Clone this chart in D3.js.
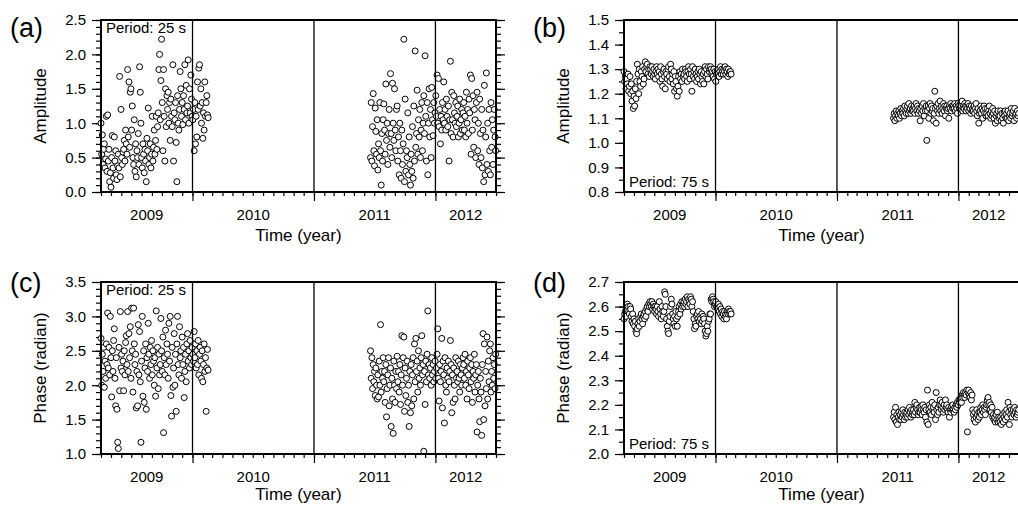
<!DOCTYPE html>
<html lang="en">
<head>
<meta charset="UTF-8">
<title>Amplitude and phase time series</title>
<script src="https://d3js.org/d3.v7.min.js"></script>
<style>
  body { margin: 0; background: #fff; }
  svg { display: block; font-family: "Liberation Sans", Arial, Helvetica, sans-serif; }
  .tick text { font-size: 15px; fill: #000; }
  .tick line { stroke: #000; stroke-width: 1.2; }
</style>
</head>
<body>
<script>
// sample days, counted from 2009-01-01
const days1 = [
  90, 92, 94, 96, 98, 100, 102, 104, 106, 108,
  110, 112, 114, 116, 118, 120, 122, 124, 126, 128,
  130, 132, 134, 136, 138, 140, 142, 144, 146, 148,
  150, 152, 154, 156, 158, 160, 162, 164, 166, 168,
  170, 172, 174, 176, 178, 180, 182, 184, 186, 188,
  190, 192, 194, 196, 198, 200, 202, 204, 206, 208,
  210, 212, 214, 216, 218, 220, 222, 224, 226, 228,
  230, 232, 234, 236, 238, 240, 242, 244, 246, 248,
  250, 252, 254, 256, 258, 260, 262, 264, 266, 268,
  270, 272, 274, 276, 278, 280, 282, 284, 286, 288,
  290, 292, 294, 296, 298, 300, 302, 304, 306, 308,
  310, 312, 314, 316, 318, 320, 322, 324, 326, 328,
  330, 332, 334, 336, 338, 340, 342, 344, 346, 348,
  350, 352, 354, 356, 358, 360, 362, 364, 366, 368,
  370, 372, 374, 376, 378, 380, 382, 384, 386, 388,
  390, 392, 394, 396, 398, 400, 402, 404, 406, 408,
  410, 412
];
const days2 = [
  900, 902, 904, 906, 908, 910, 912, 914, 916, 918,
  920, 922, 924, 926, 928, 930, 932, 934, 936, 938,
  940, 942, 944, 946, 948, 950, 952, 954, 956, 958,
  960, 962, 964, 966, 968, 970, 972, 974, 976, 978,
  980, 982, 984, 986, 988, 990, 992, 994, 996, 998,
  1000, 1002, 1004, 1006, 1008, 1010, 1012, 1014, 1016, 1018,
  1020, 1022, 1024, 1026, 1028, 1030, 1032, 1034, 1036, 1038,
  1040, 1042, 1044, 1046, 1048, 1050, 1052, 1054, 1056, 1058,
  1060, 1062, 1064, 1066, 1068, 1070, 1072, 1074, 1076, 1078,
  1080, 1082, 1084, 1086, 1088, 1090, 1092, 1094, 1096, 1098,
  1100, 1102, 1104, 1106, 1108, 1110, 1112, 1114, 1116, 1118,
  1120, 1122, 1124, 1126, 1128, 1130, 1132, 1134, 1136, 1138,
  1140, 1142, 1144, 1146, 1148, 1150, 1152, 1154, 1156, 1158,
  1160, 1162, 1164, 1166, 1168, 1170, 1172, 1174, 1176, 1178,
  1180, 1182, 1184, 1186, 1188, 1190, 1192, 1194, 1196, 1198,
  1200, 1202, 1204, 1206, 1208, 1210, 1212, 1214, 1216, 1218,
  1220, 1222, 1224, 1226, 1228, 1230, 1232, 1234, 1236, 1238,
  1240, 1242, 1244, 1246, 1248, 1250, 1252, 1254, 1256, 1258,
  1260, 1262, 1264, 1266, 1268, 1270, 1272, 1274, 1276, 1278,
  1280
];

// (a) amplitude, 25 s
const amp25_1 = [
  1.0, 0.55, 0.83, 0.4, 0.62, 0.7, 0.35, 0.48, 1.1, 0.3,
  1.12, 0.45, 0.62, 0.15, 0.28, 0.07, 0.5, 0.82, 0.35, 0.2,
  0.8, 0.45, 0.6, 0.25, 0.18, 0.38, 0.55, 0.35, 1.68, 0.22,
  1.2, 0.5, 0.4, 0.58, 0.62, 0.75, 0.45, 0.9, 0.7, 0.55,
  1.78, 0.8, 1.6, 0.65, 1.45, 1.5, 0.9, 1.25, 0.5, 0.4,
  1.05, 0.3, 0.7, 0.22, 0.6, 0.5, 0.85, 0.4, 1.82, 1.45,
  1.0, 0.5, 0.35, 0.7, 0.55, 0.28, 0.62, 0.45, 0.15, 0.78,
  0.6, 1.22, 0.4, 0.5, 0.7, 0.35, 0.55, 1.1, 0.45, 0.65,
  0.9, 0.55, 0.75, 1.1, 0.62, 0.95, 1.15, 1.78, 2.0, 1.05,
  1.62, 2.22, 1.3, 0.6, 1.78, 1.1, 0.45, 1.5, 0.95, 1.4,
  1.2, 1.45, 1.0, 1.3, 0.75, 1.35, 1.1, 0.95, 1.85, 0.45,
  1.15, 1.05, 1.3, 0.72, 0.15, 1.4, 1.0, 0.9, 1.2, 1.75,
  1.5, 1.1, 1.3, 0.98, 1.4, 1.2, 1.85, 1.05, 1.55, 1.15,
  1.25, 1.92, 1.0, 1.5, 1.15, 1.7, 1.35, 1.1, 1.05, 1.2,
  0.6, 1.3, 0.7, 1.1, 0.8, 1.6, 1.2, 1.8, 1.85, 1.25,
  1.5, 1.0, 1.3, 0.78, 1.15, 0.9, 1.6, 1.1, 1.3, 1.4,
  1.12, 1.08
];
const amp25_2 = [
  0.5, 1.3, 0.45, 0.95, 1.43, 0.6, 0.38, 1.22, 0.88, 0.55,
  1.05, 0.32, 0.7, 0.5, 1.3, 0.6, 0.1, 0.85, 0.45, 1.05,
  1.28, 0.9, 0.55, 1.57, 0.75, 1.0, 0.4, 0.85, 1.2, 0.65,
  1.72, 0.85, 0.5, 1.58, 1.0, 0.75, 1.5, 0.9, 0.6, 1.2,
  1.25, 0.45, 0.8, 0.25, 1.0, 0.6, 0.2, 0.9, 0.4, 0.7,
  2.22, 0.15, 1.35, 0.3, 0.6, 0.5, 1.15, 0.25, 0.8, 0.4,
  0.1, 0.55, 0.3, 0.95, 0.2, 1.25, 0.45, 2.05, 0.65, 0.85,
  1.48, 0.55, 1.05, 0.8, 1.2, 0.5, 0.9, 1.3, 0.6, 1.0,
  1.4, 0.85, 1.98, 1.1, 0.45, 1.3, 0.25, 1.0, 1.5, 0.8,
  1.2, 0.5, 1.52, 1.05, 0.82, 1.3, 1.0, 1.15, 1.4, 1.1,
  1.7, 1.0, 1.65, 0.95, 1.2, 0.7, 1.1, 0.9, 1.3, 1.05,
  1.6, 1.0, 1.2, 0.9, 1.35, 1.1, 0.95, 1.25, 0.45, 1.05,
  1.9, 0.85, 1.45, 1.05, 0.8, 1.4, 1.15, 1.0, 1.3, 0.95,
  1.1, 1.25, 0.8, 1.0, 1.35, 0.85, 1.05, 1.2, 0.9, 1.15,
  1.3, 0.9, 1.1, 0.8, 1.45, 1.0, 1.2, 0.85, 1.35, 1.15,
  1.7, 0.55, 1.65, 0.9, 1.4, 0.65, 1.2, 1.05, 0.5, 1.3,
  1.45, 0.6, 1.0, 0.4, 1.35, 0.85, 0.5, 1.2, 0.35, 0.9,
  0.15, 1.55, 0.25, 0.8, 1.73, 0.4, 1.0, 0.3, 1.2, 0.6,
  0.25, 1.3, 0.65, 1.05, 0.4, 0.9, 1.2, 0.8, 0.6, 1.0,
  0.85
];

// (b) amplitude, 75 s
const amp75_1 = [
  1.29, 1.25, 1.27, 1.22, 1.26, 1.24, 1.28, 1.21, 1.23, 1.27,
  1.2, 1.24, 1.17, 1.21, 1.14, 1.19, 1.15, 1.22, 1.18, 1.25,
  1.32, 1.28, 1.2, 1.3, 1.25, 1.23, 1.29, 1.27, 1.31, 1.24,
  1.26, 1.3, 1.33, 1.29, 1.31, 1.32, 1.28, 1.3, 1.27, 1.31,
  1.3, 1.28, 1.31, 1.29, 1.27, 1.3, 1.28, 1.26, 1.29, 1.31,
  1.28, 1.3, 1.27, 1.29, 1.25, 1.31, 1.28, 1.26, 1.23, 1.29,
  1.3, 1.27, 1.22, 1.29, 1.28, 1.26, 1.3, 1.31, 1.27, 1.25,
  1.32, 1.3, 1.26, 1.28, 1.24, 1.29, 1.21, 1.27, 1.25, 1.22,
  1.19, 1.23, 1.27, 1.21, 1.29, 1.26, 1.28, 1.25, 1.3, 1.27,
  1.28, 1.26, 1.3, 1.29, 1.27, 1.25, 1.29, 1.31, 1.28, 1.26,
  1.3, 1.28, 1.21, 1.31, 1.27, 1.29, 1.26, 1.3, 1.28, 1.25,
  1.27, 1.29, 1.26, 1.3, 1.28, 1.24, 1.29, 1.27, 1.25, 1.28,
  1.24, 1.29, 1.31, 1.27, 1.3, 1.28, 1.26, 1.31, 1.29, 1.3,
  1.31, 1.3, 1.28, 1.29, 1.27, 1.3, 1.26, 1.29, 1.25, 1.28,
  1.29, 1.28, 1.3, 1.27, 1.29, 1.31, 1.28, 1.3, 1.29, 1.28,
  1.3, 1.29, 1.31, 1.28, 1.3, 1.29, 1.27, 1.3, 1.28, 1.29,
  1.29, 1.28
];
const amp75_2 = [
  1.1, 1.12, 1.09, 1.11, 1.13, 1.1, 1.12, 1.11, 1.13, 1.1,
  1.12, 1.14, 1.11, 1.13, 1.12, 1.14, 1.11, 1.15, 1.13, 1.12,
  1.14, 1.15, 1.12, 1.16, 1.13, 1.14, 1.12, 1.15, 1.13, 1.14,
  1.13, 1.15, 1.12, 1.14, 1.16, 1.13, 1.15, 1.12, 1.14, 1.13,
  1.09, 1.14, 1.12, 1.15, 1.13, 1.16, 1.11, 1.14, 1.13, 1.15,
  1.01, 1.13, 1.15, 1.1, 1.14, 1.16, 1.12, 1.15, 1.13, 1.14,
  1.09, 1.12, 1.21, 1.14, 1.08, 1.15, 1.13, 1.16, 1.12, 1.14,
  1.17, 1.13, 1.15, 1.12, 1.14, 1.16, 1.13, 1.15, 1.11, 1.14,
  1.15, 1.13, 1.14, 1.1, 1.15, 1.14, 1.16, 1.13, 1.15, 1.14,
  1.15, 1.14, 1.16, 1.13, 1.15, 1.14, 1.12, 1.16, 1.15, 1.14,
  1.14, 1.16, 1.15, 1.17, 1.13, 1.15, 1.14, 1.16, 1.15, 1.13,
  1.15, 1.14, 1.16, 1.13, 1.15, 1.14, 1.12, 1.15, 1.13, 1.14,
  1.13, 1.15, 1.12, 1.14, 1.16, 1.13, 1.11, 1.14, 1.08, 1.12,
  1.13, 1.15, 1.12, 1.14, 1.1, 1.13, 1.15, 1.12, 1.14, 1.11,
  1.12, 1.14, 1.11, 1.13, 1.15, 1.12, 1.1, 1.13, 1.11, 1.14,
  1.12, 1.1, 1.13, 1.08, 1.11, 1.12, 1.09, 1.13, 1.11, 1.1,
  1.11, 1.13, 1.09, 1.12, 1.1, 1.08, 1.12, 1.11, 1.13, 1.1,
  1.12, 1.1, 1.13, 1.09, 1.11, 1.12, 1.1, 1.14, 1.11, 1.12,
  1.13, 1.09, 1.14, 1.11, 1.12, 1.1, 1.13, 1.11, 1.12, 1.1,
  1.12
];

// (c) phase, 25 s
const pha25_1 = [
  2.68, 2.0, 2.45, 2.2, 2.55, 1.97, 2.35, 2.1, 2.6, 2.3,
  3.05, 2.25, 2.55, 2.15, 3.0, 2.4, 1.83, 2.5, 2.2, 2.65,
  2.82, 2.1, 1.7, 2.4, 1.65, 1.17, 1.08, 2.55, 1.92, 3.07,
  2.25, 2.45, 2.2, 2.35, 1.92, 2.5, 2.15, 2.62, 2.72, 2.3,
  3.07, 2.2, 2.75, 2.4, 2.85, 2.1, 3.12, 2.5, 1.9, 3.12,
  2.6, 2.3, 2.45, 1.67, 2.2, 1.7, 2.88, 2.15, 2.78, 2.05,
  1.17, 2.35, 3.0, 1.84, 2.5, 1.75, 2.25, 2.6, 1.65, 2.4,
  2.2, 2.9, 2.45, 2.1, 2.55, 2.3, 2.65, 2.15, 2.5, 2.35,
  2.0, 2.4, 1.84, 3.08, 2.25, 2.55, 1.95, 2.45, 2.15, 2.3,
  2.97, 2.5, 2.2, 2.7, 1.31, 2.4, 2.15, 2.8, 2.3, 2.6,
  2.45, 2.1, 2.9, 2.35, 3.0, 1.85, 1.55, 2.55, 1.97, 2.25,
  2.75, 2.0, 2.45, 1.62, 2.6, 3.0, 2.3, 2.15, 2.85, 2.4,
  2.5, 2.1, 2.7, 2.3, 2.55, 1.82, 2.2, 2.45, 2.05, 2.6,
  2.75, 2.35, 2.5, 2.25, 2.65, 2.4, 2.3, 2.55, 2.45, 2.35,
  2.78, 2.4, 2.6, 2.25, 2.5, 2.3, 2.65, 2.15, 2.45, 2.55,
  2.35, 2.1, 2.5, 2.05, 2.3, 2.6, 2.2, 2.4, 1.62, 2.25,
  2.52, 2.22
];
const pha25_2 = [
  2.5, 2.1, 2.4, 1.95, 2.3, 2.05, 2.2, 1.85, 2.25, 2.0,
  1.8, 2.15, 1.83, 2.35, 2.0, 2.88, 1.9, 2.2, 2.1, 2.4,
  2.05, 2.2, 1.75, 2.3, 1.54, 1.95, 2.15, 2.4, 1.7, 2.0,
  2.25, 1.4, 2.1, 1.8, 1.3, 2.35, 2.0, 1.75, 2.2, 1.95,
  2.42, 2.05, 2.2, 1.9, 2.3, 1.72, 2.15, 2.72, 2.0, 2.4,
  2.7, 1.62, 2.25, 1.85, 2.1, 2.35, 1.75, 2.0, 1.4, 2.2,
  1.6, 2.3, 1.7, 2.15, 2.4, 1.8, 2.6, 2.05, 2.68, 2.2,
  2.35, 1.9, 2.5, 2.1, 2.25, 2.0, 2.4, 2.72, 2.15, 2.3,
  1.04, 2.2, 1.72, 2.35, 2.05, 2.45, 3.08, 2.15, 2.3, 2.1,
  2.25, 2.0, 2.4, 2.15, 2.3, 2.05, 2.2, 2.35, 2.1, 2.25,
  2.45, 2.82, 2.1, 1.77, 2.3, 2.05, 2.2, 2.68, 1.67, 2.35,
  2.15, 1.45, 2.4, 2.0, 1.9, 2.25, 2.1, 2.35, 2.05, 2.2,
  2.65, 2.3, 1.6, 2.15, 1.75, 2.25, 2.0, 1.8, 2.4, 2.1,
  2.2, 2.05, 2.35, 2.1, 1.9, 2.3, 2.15, 2.0, 2.25, 2.4,
  2.3, 2.1, 2.45, 2.0, 2.2, 1.8, 2.35, 2.15, 1.95, 2.25,
  2.4, 2.05, 2.3, 1.75, 2.2, 2.1, 2.45, 1.9, 2.15, 2.3,
  1.32, 2.0, 2.2, 1.8, 1.47, 2.1, 1.9, 1.27, 2.3, 2.75,
  1.5, 2.6, 1.7, 2.2, 1.95, 2.7, 1.8, 2.35, 2.05, 2.5,
  2.6, 1.9, 2.2, 2.0, 2.4, 2.1, 2.3, 1.95, 2.45, 2.15,
  2.2
];

// (d) phase, 75 s
const pha75_1 = [
  2.55, 2.57, 2.58, 2.56, 2.59, 2.61, 2.6, 2.58, 2.57, 2.6,
  2.59, 2.56, 2.54, 2.57, 2.53, 2.55, 2.52, 2.54, 2.5, 2.49,
  2.51, 2.53, 2.55, 2.52, 2.54, 2.56, 2.57, 2.55, 2.53, 2.56,
  2.57, 2.55, 2.58, 2.56, 2.59, 2.6, 2.58, 2.61, 2.6, 2.62,
  2.61, 2.6, 2.62, 2.59, 2.61, 2.6, 2.58, 2.6, 2.59, 2.57,
  2.6, 2.58, 2.56, 2.62, 2.59, 2.57, 2.55, 2.6, 2.58, 2.56,
  2.58, 2.66, 2.65, 2.6, 2.55, 2.52, 2.5, 2.49, 2.54, 2.56,
  2.6, 2.63, 2.61, 2.57, 2.55, 2.53, 2.56, 2.52, 2.58, 2.55,
  2.52, 2.56, 2.58, 2.6, 2.57, 2.61, 2.59, 2.62, 2.6, 2.61,
  2.62, 2.6, 2.63, 2.61, 2.62, 2.64, 2.6, 2.63, 2.62, 2.61,
  2.64, 2.63, 2.6, 2.62, 2.58, 2.55, 2.51, 2.53, 2.52, 2.56,
  2.57, 2.55, 2.58, 2.54, 2.56, 2.55, 2.53, 2.57, 2.54, 2.56,
  2.55, 2.53, 2.5, 2.48, 2.49, 2.52, 2.5, 2.54, 2.55, 2.57,
  2.57, 2.63, 2.62, 2.64, 2.63, 2.62, 2.6, 2.61, 2.62, 2.6,
  2.6, 2.59, 2.61, 2.58, 2.6, 2.57, 2.59, 2.56, 2.58, 2.57,
  2.55, 2.58, 2.56, 2.57, 2.55, 2.58, 2.57, 2.59, 2.58, 2.57,
  2.58, 2.57
];
const pha75_2 = [
  2.15, 2.17, 2.14, 2.19, 2.13, 2.16, 2.12, 2.15, 2.17, 2.14,
  2.16, 2.14, 2.17, 2.15, 2.18, 2.16, 2.14, 2.17, 2.15, 2.16,
  2.17, 2.15, 2.18, 2.16, 2.19, 2.17, 2.15, 2.18, 2.16, 2.17,
  2.18, 2.16, 2.21, 2.17, 2.19, 2.2, 2.18, 2.16, 2.17, 2.19,
  2.17, 2.19, 2.18, 2.16, 2.2, 2.18, 2.17, 2.19, 2.15, 2.18,
  2.13, 2.26, 2.12, 2.18, 2.2, 2.17, 2.19, 2.16, 2.21, 2.18,
  2.19, 2.17, 2.2, 2.14, 2.25, 2.18, 2.16, 2.19, 2.17, 2.2,
  2.22, 2.2, 2.18, 2.21, 2.19, 2.17, 2.2, 2.18, 2.22, 2.19,
  2.2, 2.18, 2.17, 2.19, 2.15, 2.18, 2.17, 2.19, 2.18, 2.2,
  2.18, 2.17, 2.19, 2.18, 2.2, 2.19, 2.21, 2.2, 2.22, 2.21,
  2.22, 2.23, 2.21, 2.24, 2.23, 2.25, 2.24, 2.23, 2.25, 2.24,
  2.26, 2.09, 2.25, 2.26, 2.24, 2.23, 2.25, 2.22, 2.24, 2.18,
  2.16, 2.14, 2.17, 2.13, 2.15, 2.18, 2.16, 2.14, 2.17, 2.15,
  2.17, 2.19, 2.16, 2.18, 2.2, 2.17, 2.19, 2.18, 2.16, 2.19,
  2.2, 2.22, 2.23, 2.2, 2.21, 2.18, 2.2, 2.17, 2.19, 2.15,
  2.16, 2.14, 2.15, 2.13, 2.16, 2.14, 2.17, 2.13, 2.15, 2.14,
  2.13, 2.15, 2.12, 2.14, 2.16, 2.13, 2.15, 2.17, 2.14, 2.16,
  2.18, 2.15, 2.21, 2.17, 2.12, 2.19, 2.16, 2.18, 2.15, 2.17,
  2.18, 2.16, 2.19, 2.17, 2.15, 2.18, 2.16, 2.17, 2.18, 2.16,
  2.17
];

const years = [2009, 2010, 2011, 2012];

const panels = [
  {tag: "(a)", left: 101, top: 20, tagY: 37, xlabelDy: 49, ylabel: "Amplitude", note: "Period: 25 s", noteTop: true,
   ydom: [0, 2.5], major: 0.5, minor: 0.1, series: [amp25_1, amp25_2]},
  {tag: "(b)", left: 624, top: 20, tagY: 37, xlabelDy: 49, ylabel: "Amplitude", note: "Period: 75 s", noteTop: false,
   ydom: [0.8, 1.5], major: 0.1, minor: 0.05, series: [amp75_1, amp75_2]},
  {tag: "(c)", left: 101, top: 282, tagY: 292, xlabelDy: 46, ylabel: "Phase (radian)", note: "Period: 25 s", noteTop: true,
   ydom: [1, 3.5], major: 0.5, minor: 0.1, series: [pha25_1, pha25_2]},
  {tag: "(d)", left: 624, top: 282, tagY: 292, xlabelDy: 46, ylabel: "Phase (radian)", note: "Period: 75 s", noteTop: false,
   ydom: [2, 2.7], major: 0.1, minor: 0.05, series: [pha75_1, pha75_2]}
];

const width = 395, height = 172;
const t0 = Date.UTC(2009, 0, 1);
const toDate = d => new Date(t0 + d * 864e5);

const x = d3.scaleUtc()
  .domain([new Date(Date.UTC(2009, 3, 1)), new Date(Date.UTC(2012, 6, 1))])
  .range([0, width]);
const [xMin, xMax] = x.domain();
const yearStarts = years.concat([2013]).map(y => new Date(Date.UTC(y, 0, 1)));
const innerYears = yearStarts.filter(d => d > xMin && d < xMax);

const svg = d3.select("body").append("svg")
  .attr("width", 1018)
  .attr("height", 506);

const noDomain = s => s.select(".domain").remove();
const stepTicks = (dom, step) => d3.range(Math.round((dom[1] - dom[0]) / step) + 1).map(i => +(dom[0] + i * step).toFixed(3));

panels.forEach(p => {
  const g = svg.append("g").attr("transform", `translate(${p.left},${p.top})`);
  const y = d3.scaleLinear().domain(p.ydom).range([height, 0]);
  const minorT = stepTicks(p.ydom, p.minor);
  const majorT = stepTicks(p.ydom, p.major);

  // y axes, left with labels, right ticks only
  g.append("g").call(d3.axisLeft(y).tickValues(minorT).tickSize(5).tickFormat("")).call(noDomain);
  g.append("g").call(d3.axisLeft(y).tickValues(majorT).tickSize(9).tickPadding(6).tickFormat(d3.format(".1f"))).call(noDomain);
  g.append("g").attr("transform", `translate(${width},0)`)
    .call(d3.axisRight(y).tickValues(minorT).tickSize(5).tickFormat("")).call(noDomain);
  g.append("g").attr("transform", `translate(${width},0)`)
    .call(d3.axisRight(y).tickValues(majorT).tickSize(9).tickFormat("")).call(noDomain);

  // time axis: monthly ticks, longer ones at year boundaries
  g.append("g").attr("transform", `translate(0,${height})`)
    .call(d3.axisBottom(x).ticks(d3.utcMonth.every(1)).tickSize(4).tickFormat("")).call(noDomain);
  g.append("g").attr("transform", `translate(0,${height})`)
    .call(d3.axisBottom(x).tickValues(innerYears).tickSize(9).tickFormat("")).call(noDomain);

  // year names centred on the visible part of each year
  g.selectAll(".year").data(years).join("text")
    .attr("class", "year")
    .attr("x", (yr, i) => (Math.max(0, x(yearStarts[i])) + Math.min(width, x(yearStarts[i + 1]))) / 2)
    .attr("y", height + 28)
    .attr("text-anchor", "middle")
    .attr("font-size", 15)
    .text(yr => yr);

  // data points
  const pts = [];
  [days1, days2].forEach((days, k) => {
    days.forEach((d, i) => {
      const v = p.series[k][i];
      const t = toDate(d);
      if (v !== undefined && t >= xMin && t <= xMax) pts.push([t, v]);
    });
  });
  g.append("g").selectAll("circle").data(pts).join("circle")
    .attr("cx", d => x(d[0]))
    .attr("cy", d => y(d[1]))
    .attr("r", 3)
    .attr("fill", "#fff")
    .attr("stroke", "#000")
    .attr("stroke-width", 1);

  // year boundary lines
  g.selectAll(".yline").data(innerYears).join("line")
    .attr("class", "yline")
    .attr("x1", d => x(d)).attr("x2", d => x(d))
    .attr("y1", 0).attr("y2", height)
    .attr("stroke", "#000")
    .attr("stroke-width", 1.3);

  // frame
  g.append("rect")
    .attr("width", width).attr("height", height)
    .attr("fill", "none").attr("stroke", "#000").attr("stroke-width", 2);

  g.append("text")
    .attr("x", 5)
    .attr("y", p.noteTop ? 13 : height - 5)
    .attr("font-size", 15)
    .text(p.note);

  g.append("text")
    .attr("transform", `translate(-55,${height / 2}) rotate(-90)`)
    .attr("text-anchor", "middle")
    .attr("font-size", 17)
    .text(p.ylabel);

  g.append("text")
    .attr("x", width / 2)
    .attr("y", height + p.xlabelDy)
    .attr("text-anchor", "middle")
    .attr("font-size", 17)
    .text("Time (year)");

  svg.append("text")
    .attr("x", p.left - 91)
    .attr("y", p.tagY)
    .attr("font-size", 27)
    .text(p.tag);
});
</script>
</body>
</html>
